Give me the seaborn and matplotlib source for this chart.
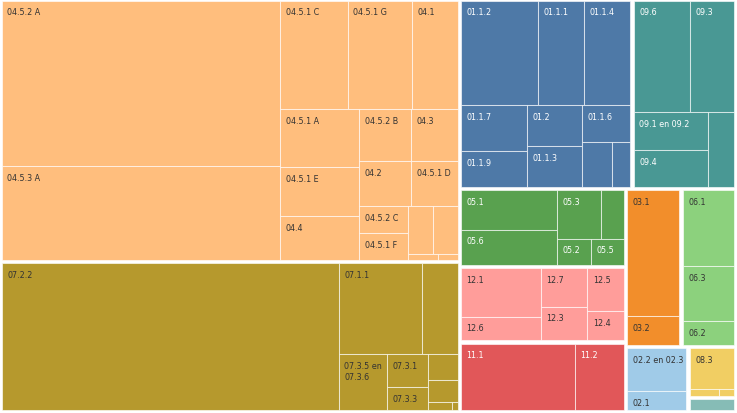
import matplotlib
matplotlib.use("Agg")
import matplotlib.pyplot as plt
import seaborn as sns
import pandas as pd

sns.set_theme(style="white")
plt.rcParams['font.family'] = ['DejaVu Sans']

# Main COICOP groups and their colours (Tableau 20, in code order)
group_codes = ["01", "02", "03", "04", "05", "06", "07", "08", "09", "10", "11", "12"]
group_colors = ["#4E79A7", "#A0CBE8", "#F28E2B", "#FFBE7D", "#59A14F", "#8CD17D",
                "#B6992D", "#F1CE63", "#499894", "#86BCB6", "#E15759", "#FF9D9A"]

# Leaf values per group (share of total, per mille); "" = no label shown
labels_01 = ["01.1.2", "01.1.1", "01.1.4", "01.1.7", "01.1.9", "01.2", "01.1.3", "01.1.6", "", ""]
values_01 = [27.48, 16.65, 16.55, 10.35, 8.01, 7.80, 7.72, 6.01, 4.58, 2.81]
labels_02 = ["02.2 en 02.3", "02.1"]
values_02 = [9.20, 4.13]
labels_03 = ["03.1", "03.2"]
values_03 = [23.45, 5.36]
labels_04 = ["04.5.2 A", "04.5.3 A", "04.5.1 C", "04.5.1 G", "04.1", "04.5.1 A", "04.5.1 E", "04.4",
             "04.5.2 B", "04.3", "04.2", "04.5.1 D", "04.5.2 C", "04.5.1 F", "", "", "", ""]
values_04 = [154.65, 88.10, 24.64, 23.58, 16.70, 15.31, 13.00, 11.76,
             8.98, 8.04, 7.82, 7.00, 4.48, 4.33, 4.12, 3.94, 0.60, 0.40]
labels_05 = ["05.1", "05.6", "05.3", "", "05.2", "05.5"]
values_05 = [13.25, 12.04, 7.34, 3.94, 3.15, 3.09]
labels_06 = ["06.1", "06.3", "06.2"]
values_06 = [13.91, 10.12, 4.36]
labels_07 = ["07.2.2", "07.1.1", "", "07.3.5 en 07.3.6", "07.3.1", "07.3.3", "", "", "", ""]
values_07 = [167.92, 25.69, 11.05, 9.06, 4.52, 3.22, 2.60, 2.23, 0.62, 0.16]
labels_08 = ["08.3", "", ""]
values_08 = [6.78, 0.80, 0.42]
labels_09 = ["09.6", "09.3", "09.1 en 09.2", "09.4", ""]
values_09 = [21.58, 17.11, 9.97, 9.51, 6.60]
labels_10 = [""]
values_10 = [2.17]
labels_11 = ["11.1", "11.2"]
values_11 = [26.68, 11.47]
labels_12 = ["12.1", "12.6", "12.7", "12.3", "12.5", "12.4"]
values_12 = [13.53, 6.68, 6.20, 5.50, 5.48, 3.79]

leaf_labels = [labels_01, labels_02, labels_03, labels_04, labels_05, labels_06,
               labels_07, labels_08, labels_09, labels_10, labels_11, labels_12]
leaf_values = [values_01, values_02, values_03, values_04, values_05, values_06,
               values_07, values_08, values_09, values_10, values_11, values_12]

rows = []
for code, labs, vals in zip(group_codes, leaf_labels, leaf_values):
    for lab, val in zip(labs, vals):
        rows.append({'group': code, 'label': lab, 'value': val})
df = pd.DataFrame(rows)
palette = dict(zip(group_codes, sns.color_palette(group_colors)))

W, H = 737, 414
ROOT = (0.0, 0.0, 735.5, 412.5)
PAD = 1.6            # half of the white gap between groups
PHI = (1 + 5 ** 0.5) / 2
STRETCH = 1.095      # tiling is done in a slightly squeezed space
FS = 5.8
LINE_H = 11.0        # px between wrapped label lines


def squarify(values, x0, y0, x1, y1, ratio=PHI, stretch=STRETCH):
    """Squarified tiling (d3 style); values sorted descending."""
    rects = []
    total = float(sum(values))
    n = len(values)
    i0 = 0
    while i0 < n:
        dx, dy = (x1 - x0) / stretch, y1 - y0
        s = values[i0]
        vmin = vmax = s
        alpha = max(dy / dx, dx / dy) / (total * ratio)
        beta = s * s * alpha
        best = max(vmax / beta, beta / vmin)
        i1 = i0 + 1
        while i1 < n:
            v = values[i1]
            s2 = s + v
            beta = s2 * s2 * alpha
            r = max(max(vmax, v) / beta, beta / min(vmin, v))
            if r > best:
                break
            s, best = s2, r
            vmin, vmax = min(vmin, v), max(vmax, v)
            i1 += 1
        row = values[i0:i1]
        if dx < dy:
            h = (y1 - y0) * s / total
            x = x0
            for v in row:
                w = (x1 - x0) * v / s
                rects.append((x, y0, w, h))
                x += w
            y0 += h
        else:
            w = (x1 - x0) * s / total
            y = y0
            for v in row:
                h = (y1 - y0) * v / s
                rects.append((x0, y, w, h))
                y += h
            x0 += w
        total -= s
        i0 = i1
    return rects


fig = plt.figure(figsize=(W / 100, H / 100), dpi=100)
ax = fig.add_axes([0, 0, 1, 1])
ax.set_xlim(0, W)
ax.set_ylim(H, 0)
ax.axis('off')
renderer = fig.canvas.get_renderer()


def text_width(s):
    t = ax.text(0, 0, s, fontsize=FS)
    w = t.get_window_extent(renderer).width
    t.remove()
    return w


def wrap(text, max_w):
    lines, cur = [], ''
    for word in text.split(' '):
        trial = (cur + ' ' + word).strip()
        if cur and text_width(trial) > max_w:
            lines.append(cur)
            cur = word
        else:
            cur = trial
    lines.append(cur)
    return lines


totals = df.groupby('group')['value'].sum().sort_values(ascending=False)
group_rects = squarify(list(totals.values), *ROOT)

for (code, total), (x, y, w, h) in zip(totals.items(), group_rects):
    leaves = df[df['group'] == code].sort_values('value', ascending=False, kind='stable')
    rects = squarify(list(leaves['value']), x + PAD, y + PAD, x + w - PAD, y + h - PAD)
    color = palette[code]
    ax.bar([r[0] for r in rects], [r[3] for r in rects], width=[r[2] for r in rects],
           bottom=[r[1] for r in rects], align='edge', color=color,
           edgecolor=(1, 1, 1, 0.6), linewidth=0.75)
    lum = 0.299 * color[0] + 0.587 * color[1] + 0.114 * color[2]
    txt_color = '#333333' if lum > 0.55 else 'white'
    for lab, (rx, ry, rw, rh) in zip(leaves['label'], rects):
        if not lab:
            continue
        for i, line in enumerate(wrap(lab, rw - 6)):
            ax.text(rx + 5.5, ry + 13.8 + i * LINE_H, line, fontsize=FS, color=txt_color,
                    ha='left', va='baseline')

fig.savefig('out.png', dpi=100, facecolor='white')
